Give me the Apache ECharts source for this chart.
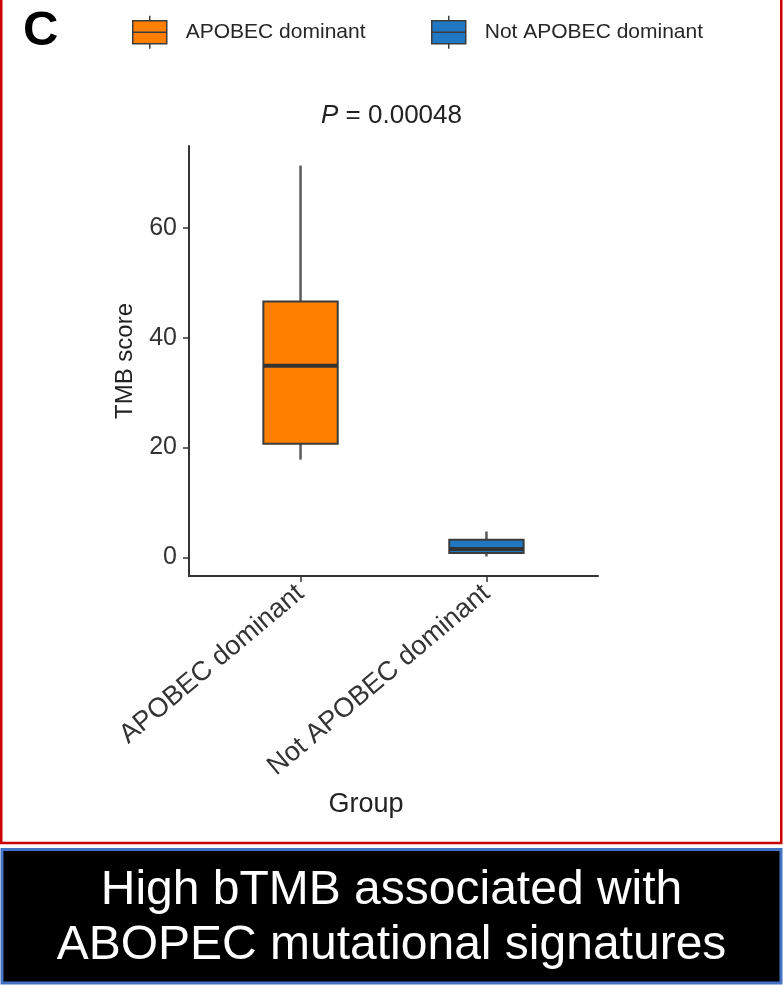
<!DOCTYPE html>
<html>
<head>
<meta charset="utf-8">
<title>TMB score by APOBEC group</title>
<script src="https://cdn.jsdelivr.net/npm/echarts@6/dist/echarts.min.js"></script>
<style>
  html, body { margin: 0; padding: 0; background: #ffffff; }
  #chart { width: 783px; height: 985px; }
</style>
</head>
<body>
<div id="chart"></div>
<script>
// Groups shown on the x axis (also the legend entries)
const groups = ['APOBEC dominant', 'Not APOBEC dominant'];
// Box statistics per group: [lower whisker, Q1, median, Q3, upper whisker]
const apobecStats = [17.8, 20.7, 34.9, 46.6, 71.4];
const notApobecStats = [0.15, 0.8, 1.5, 3.2, 4.7];
// Fill colours per group
const groupColors = ['#ff7f00', '#1f78c1'];
// Y axis tick values
const yTicks = [0, 20, 40, 60];
// Test result printed above the panel
const pValueText = '0.00048';
// Caption below the panel
const captionLines = ['High bTMB associated with', 'ABOPEC mutational signatures'];

const FONT = '"Liberation Sans", Arial, Helvetica, sans-serif';

// y range: data extent padded by 5% on both sides
const allStats = apobecStats.concat(notApobecStats);
const lo = Math.min.apply(null, allStats);
const hi = Math.max.apply(null, allStats);
const pad = (hi - lo) * 0.05;

const BOX_WIDTH = 0.4; // in x-axis units

function renderBox(params, api) {
  const x = api.value(0);
  const pMin = api.coord([x, api.value(1)]);
  const pQ1 = api.coord([x, api.value(2)]);
  const pMed = api.coord([x, api.value(3)]);
  const pQ3 = api.coord([x, api.value(4)]);
  const pMax = api.coord([x, api.value(5)]);
  const halfW = api.size([BOX_WIDTH, 0])[0] / 2;
  const cx = pMed[0];
  const fill = api.visual('color');
  const whisker = { stroke: '#5a5a5a', lineWidth: 2.5 };
  return {
    type: 'group',
    children: [
      { type: 'line', shape: { x1: cx, y1: pQ3[1], x2: cx, y2: pMax[1] }, style: whisker },
      { type: 'line', shape: { x1: cx, y1: pQ1[1], x2: cx, y2: pMin[1] }, style: whisker },
      {
        type: 'rect',
        shape: { x: cx - halfW, y: pQ3[1], width: halfW * 2, height: pQ1[1] - pQ3[1] },
        style: { fill: fill, stroke: '#3c3c3c', lineWidth: 2 }
      },
      {
        type: 'line',
        shape: { x1: cx - halfW, y1: pMed[1], x2: cx + halfW, y2: pMed[1] },
        style: { stroke: '#333333', lineWidth: 4 }
      }
    ]
  };
}

const legendIcon = 'path://M17,0 V5 M0,5 H34 V28 H0 Z M0,16.5 H34 M17,28 V33';
function legendFor(name, left) {
  return {
    data: [{ name: name, icon: legendIcon }],
    left: left,
    top: 15,
    padding: 0,
    itemWidth: 34,
    itemHeight: 33,
    itemStyle: { borderColor: '#3c3c3c', borderWidth: 1.5 },
    textStyle: { fontFamily: FONT, fontSize: 21, color: '#262626', padding: [0, 0, 0, 14] },
    selectedMode: false
  };
}

const chart = echarts.init(document.getElementById('chart'), null, { renderer: 'canvas' });

chart.setOption({
  backgroundColor: '#ffffff',
  animation: false,
  title: {
    text: '{i|P} = ' + pValueText,
    left: 'center',
    top: 103,
    padding: 0,
    textStyle: {
      fontFamily: FONT,
      fontSize: 26,
      fontWeight: 'normal',
      color: '#222222',
      rich: { i: { fontFamily: FONT, fontSize: 26, fontStyle: 'italic', color: '#222222' } }
    }
  },
  legend: [legendFor(groups[0], 132), legendFor(groups[1], 431)],
  grid: { left: 189, top: 146, width: 409, height: 430, containLabel: false },
  xAxis: {
    type: 'value',
    min: 0.4,
    max: 2.6,
    splitLine: { show: false },
    axisLine: { show: true, onZero: false, lineStyle: { color: '#333333', width: 2 } },
    axisTick: { show: true, customValues: [1, 2], length: 6, lineStyle: { color: '#333333', width: 1.5 } },
    axisLabel: {
      customValues: [1, 2],
      formatter: function (v) { return groups[Math.round(v) - 1]; },
      rotate: 40,
      margin: 14,
      fontFamily: FONT,
      fontSize: 27,
      color: '#333333'
    }
  },
  yAxis: {
    type: 'value',
    min: lo - pad,
    max: hi + pad,
    splitLine: { show: false },
    axisLine: { show: true, onZero: false, lineStyle: { color: '#333333', width: 2 } },
    axisTick: { show: true, customValues: yTicks, length: 6, lineStyle: { color: '#333333', width: 1.5 } },
    axisLabel: {
      customValues: yTicks,
      margin: 12,
      fontFamily: FONT,
      fontSize: 25,
      color: '#333333'
    },
    name: 'TMB score',
    nameLocation: 'middle',
    nameGap: 52,
    nameTextStyle: { fontFamily: FONT, fontSize: 24, color: '#222222' }
  },
  series: [
    {
      name: groups[0],
      type: 'custom',
      renderItem: renderBox,
      itemStyle: { color: groupColors[0] },
      encode: { x: 0, y: [1, 2, 3, 4, 5] },
      data: [[1].concat(apobecStats)]
    },
    {
      name: groups[1],
      type: 'custom',
      renderItem: renderBox,
      itemStyle: { color: groupColors[1] },
      encode: { x: 0, y: [1, 2, 3, 4, 5] },
      data: [[2].concat(notApobecStats)]
    }
  ],
  graphic: [
    // panel frame
    {
      type: 'rect',
      shape: { x: 1.25, y: -10, width: 780, height: 853 },
      style: { fill: 'none', stroke: '#cc0000', lineWidth: 2.5 },
      silent: true
    },
    // panel letter
    {
      type: 'text',
      left: 23,
      top: 7,
      style: { text: 'C', fontFamily: FONT, fontSize: 49, fontWeight: 'bold', fill: '#000000' }
    },
    // x axis title
    {
      type: 'text',
      x: 366,
      y: 805,
      style: {
        text: 'Group', fontFamily: FONT, fontSize: 27, fill: '#222222',
        align: 'center', verticalAlign: 'middle'
      }
    },
    // caption box
    {
      type: 'rect',
      shape: { x: 2, y: 849.5, width: 779, height: 133.5 },
      style: { fill: '#000000', stroke: '#4472c4', lineWidth: 3 },
      silent: true
    },
    {
      type: 'text',
      x: 391.5,
      y: 891,
      style: {
        text: captionLines[0], fontFamily: FONT, fontSize: 48, fill: '#ffffff',
        align: 'center', verticalAlign: 'middle'
      }
    },
    {
      type: 'text',
      x: 391.5,
      y: 946,
      style: {
        text: captionLines[1], fontFamily: FONT, fontSize: 48, fill: '#ffffff',
        align: 'center', verticalAlign: 'middle'
      }
    }
  ]
});
</script>
</body>
</html>
